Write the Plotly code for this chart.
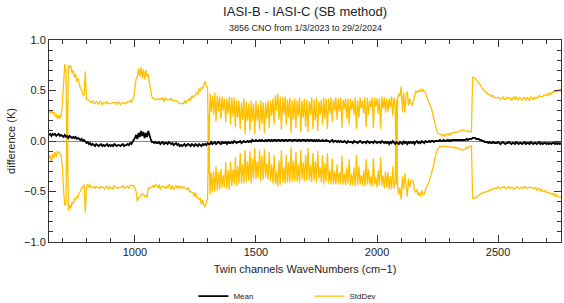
import numpy as np
import plotly.graph_objects as go

# ---------------- data ----------------
WN_START = 645.0      # first twin-channel wavenumber (cm-1)
WN_STEP = 5.0         # sampling used for the read-off values (cm-1)

# Mean difference IASI-B minus IASI-C (K), one value per WN_STEP from WN_START
mean_diff = [
    0.06, 0.07, 0.05, 0.07, 0.06, 0.07, 0.05, 0.06, 0.07, 0.05,        # 645
    0.06, 0.05, 0.04, 0.06, 0.04, 0.05, 0.03, 0.05, 0.04, 0.03,        # 695
    0.04, 0.03, 0.04, 0.02, 0.03, 0.02, 0.01, 0.02, 0.00, 0.01,        # 745
    -0.01, -0.02, -0.01, -0.03, -0.02, -0.04, -0.03, -0.04, -0.05, -0.03,  # 795
    -0.04, -0.05, -0.04, -0.03, -0.05, -0.04, -0.05, -0.04, -0.03, -0.05,  # 845
    -0.04, -0.05, -0.04, -0.05, -0.03, -0.04, -0.05, -0.04, -0.04, -0.05,  # 895
    -0.04, -0.03, -0.05, -0.04, -0.04, -0.03, -0.04, -0.02, -0.03, -0.01,  # 945
    0.00, 0.03, 0.06, 0.02, 0.08, 0.04, 0.10, 0.05, 0.09, 0.03,        # 995
    0.08, 0.04, 0.10, 0.05, 0.02, -0.01, -0.01, -0.02, -0.01, -0.02,   # 1045
    -0.02, -0.01, -0.03, -0.02, -0.01, -0.03, -0.02, -0.02, -0.03, -0.01,  # 1095
    -0.02, -0.03, -0.02, -0.04, -0.03, -0.02, -0.04, -0.03, -0.05, -0.04,  # 1145
    -0.05, -0.04, -0.03, -0.05, -0.04, -0.03, -0.04, -0.05, -0.03, -0.04,  # 1195
    -0.05, -0.03, -0.04, -0.05, -0.03, -0.04, -0.05, -0.03, -0.04, -0.03,  # 1245
    -0.04, -0.02, -0.03, -0.03, -0.01, -0.03, -0.02, -0.01, -0.03, -0.02,  # 1295
    -0.01, -0.02, -0.03, -0.01, -0.02, -0.02, -0.01, -0.03, -0.01, -0.02,  # 1345
    -0.02, -0.01, -0.02, 0.00, -0.01, -0.02, -0.01, -0.01, 0.00, -0.02,    # 1395
    -0.01, 0.00, -0.01, -0.01, 0.00, -0.01, 0.00, -0.01, 0.01, 0.00,       # 1445
    0.00, 0.01, 0.00, 0.00, 0.01, 0.00, 0.01, 0.00, 0.00, 0.01,        # 1495
    0.00, 0.01, 0.01, 0.00, 0.01, 0.00, 0.01, 0.01, 0.00, 0.01,        # 1545
    0.01, 0.00, 0.01, 0.01, 0.00, 0.01, 0.01, 0.00, 0.01, 0.01,        # 1595
    0.01, 0.00, 0.01, 0.01, 0.01, 0.00, 0.01, 0.01, 0.00, 0.01,        # 1645
    0.01, 0.01, 0.00, 0.01, 0.01, 0.00, 0.01, 0.01, 0.00, 0.01,        # 1695
    0.00, 0.01, 0.00, 0.01, 0.00, 0.00, 0.01, 0.00, 0.00, 0.01,        # 1745
    0.00, 0.00, -0.01, 0.00, 0.01, -0.01, 0.00, 0.00, -0.01, 0.00,     # 1795
    -0.01, 0.00, -0.01, -0.01, 0.00, -0.01, -0.02, 0.00, -0.01, -0.01,  # 1845
    -0.01, -0.02, 0.00, -0.01, -0.01, -0.02, -0.01, 0.00, -0.01, -0.02,  # 1895
    -0.01, -0.01, -0.02, 0.00, -0.01, -0.02, -0.01, -0.01, -0.02, 0.00,  # 1945
    -0.01, -0.02, -0.01, -0.01, -0.02, 0.00, -0.01, -0.02, -0.01, -0.02,  # 1995
    -0.01, -0.03, -0.01, -0.02, 0.00, -0.02, -0.03, -0.01, -0.02, -0.03,  # 2045
    -0.01, -0.02, -0.03, 0.00, -0.02, -0.01, -0.03, -0.01, -0.02, -0.01,  # 2095
    -0.02, -0.01, -0.03, -0.01, 0.00, -0.02, -0.01, -0.02, 0.00, -0.01,   # 2145
    -0.02, 0.00, -0.01, -0.01, 0.00, -0.01, 0.00, 0.00, -0.01, 0.00,      # 2195
    0.00, 0.00, 0.00, 0.01, 0.00, 0.00, 0.01, 0.00, 0.00, 0.01,        # 2245
    0.00, 0.01, 0.00, 0.01, 0.01, 0.01, 0.01, 0.01, 0.01, 0.01,        # 2295
    0.01, 0.01, 0.01, 0.01, 0.01, 0.02, 0.01, 0.02, 0.02, 0.02,        # 2345
    0.03, 0.03, 0.03, 0.02, 0.02, 0.02, 0.01, 0.01, 0.00, 0.00,        # 2395
    -0.01, -0.01, -0.01, -0.02, -0.01, -0.02, -0.02, -0.01, -0.02, -0.02,  # 2445
    -0.02, -0.01, -0.02, -0.03, -0.02, -0.01, -0.02, -0.03, -0.02, -0.02,  # 2495
    -0.01, -0.02, -0.03, -0.02, -0.02, -0.03, -0.01, -0.02, -0.03, -0.02,  # 2545
    -0.02, -0.03, -0.02, -0.01, -0.03, -0.02, -0.02, -0.03, -0.01, -0.02,  # 2595
    -0.03, -0.02, -0.02, -0.03, -0.02, -0.01, -0.03, -0.02, -0.03, -0.02,  # 2645
    -0.02, -0.03, -0.02, -0.03, -0.02, -0.03, -0.02, -0.02, -0.03, -0.02,  # 2695
    -0.03, -0.02, -0.03, -0.02,                                        # 2745
]

# Standard deviation of the difference (K), same sampling
std_dev = [
    0.24, 0.21, 0.25, 0.20, 0.23, 0.18, 0.21, 0.16, 0.19, 0.17,        # 645
    0.20, 0.30, 0.52, 0.70, 0.66, -0.35, 0.72, 0.68, 0.71, 0.64,       # 695
    0.66, 0.60, 0.62, 0.57, 0.59, 0.53, 0.51, 0.48, 0.46, 0.44,        # 745
    0.70, 0.43, 0.42, 0.43, 0.41, 0.42, 0.43, 0.41, 0.42, 0.42,        # 795
    0.42, 0.41, 0.43, 0.42, 0.41, 0.42, 0.43, 0.41, 0.42, 0.42,        # 845
    0.41, 0.42, 0.42, 0.43, 0.41, 0.42, 0.41, 0.43, 0.42, 0.41,        # 895
    0.42, 0.41, 0.42, 0.42, 0.41, 0.42, 0.43, 0.42, 0.41, 0.43,        # 945
    0.44, 0.50, 0.56, 0.62, 0.64, 0.60, 0.63, 0.57, 0.62, 0.58,        # 995
    0.62, 0.60, 0.56, 0.52, 0.48, 0.45, 0.43, 0.44, 0.42, 0.43,        # 1045
    0.44, 0.42, 0.45, 0.43, 0.44, 0.42, 0.45, 0.43, 0.44, 0.42,        # 1095
    0.43, 0.45, 0.42, 0.44, 0.43, 0.42, 0.43, 0.41, 0.42, 0.41,        # 1145
    0.42, 0.41, 0.43, 0.42, 0.44, 0.43, 0.46, 0.45, 0.48, 0.47,        # 1195
    0.50, 0.48, 0.52, 0.51, 0.55, 0.53, 0.58, 0.55, 0.60, 0.62,        # 1245
    0.58, 0.55, -0.30, 0.50, 0.30, 0.48, 0.28, 0.49, 0.22, 0.47,       # 1295
    0.30, 0.46, 0.25, 0.45, 0.32, 0.44, 0.20, 0.45, 0.28, 0.46,        # 1345
    0.18, 0.44, 0.26, 0.43, 0.15, 0.42, 0.24, 0.41, 0.12, 0.40,        # 1395
    0.22, 0.42, 0.08, 0.40, 0.20, 0.38, 0.10, 0.41, 0.18, 0.37,        # 1445
    0.07, 0.39, 0.20, 0.36, 0.10, 0.40, 0.16, 0.38, 0.08, 0.37,        # 1495
    0.22, 0.39, 0.12, 0.40, 0.24, 0.42, 0.15, 0.44, 0.30, 0.46,        # 1545
    0.20, 0.44, 0.10, 0.42, 0.26, 0.43, 0.15, 0.41, 0.22, 0.42,        # 1595
    0.07, 0.40, 0.20, 0.41, 0.12, 0.40, 0.24, 0.42, 0.09, 0.39,        # 1645
    0.22, 0.41, 0.14, 0.40, 0.08, 0.39, 0.25, 0.42, 0.12, 0.40,        # 1695
    0.20, 0.42, 0.10, 0.38, 0.26, 0.41, 0.15, 0.43, 0.22, 0.41,        # 1745
    0.12, 0.42, 0.28, 0.43, 0.18, 0.42, 0.30, 0.43, 0.22, 0.42,        # 1795
    0.30, 0.43, 0.14, 0.42, 0.32, 0.43, 0.24, 0.42, 0.17, 0.43,        # 1845
    0.32, 0.42, 0.26, 0.44, 0.13, 0.42, 0.24, 0.43, 0.33, 0.42,        # 1895
    0.28, 0.44, 0.16, 0.43, 0.27, 0.42, 0.34, 0.44, 0.15, 0.43,        # 1945
    0.35, 0.44, 0.28, 0.43, 0.14, 0.44, 0.33, 0.45, 0.29, 0.44,        # 1995
    0.30, 0.45, 0.34, 0.46, 0.25, 0.45, 0.36, -0.42, 0.44, 0.50,       # 2045
    0.45, 0.56, 0.32, 0.48, 0.30, 0.47, 0.52, 0.36, 0.44, 0.38,        # 2095
    0.37, 0.40, 0.46, 0.50, 0.48, 0.52, 0.50, 0.53, 0.49, 0.52,        # 2145
    0.51, 0.48, 0.45, 0.42, 0.40, 0.36, 0.32, 0.27, 0.22, 0.16,        # 2195
    0.12, 0.08, 0.07, 0.06, 0.06, 0.05, 0.06, 0.05, 0.06, 0.06,        # 2245
    0.06, 0.07, 0.06, 0.07, 0.07, 0.08, 0.07, 0.08, 0.08, 0.09,        # 2295
    0.09, 0.10, 0.10, 0.09, 0.09, 0.08, 0.08, 0.08, 0.07, 0.07,        # 2345
    0.60, 0.60, 0.59, 0.58, 0.57, 0.56, 0.54, 0.53, 0.52, 0.51,        # 2395
    0.50, 0.49, 0.49, 0.48, 0.47, 0.47, 0.46, 0.46, 0.45, 0.45,        # 2445
    0.45, 0.44, 0.45, 0.44, 0.44, 0.45, 0.43, 0.44, 0.45, 0.44,        # 2495
    0.44, 0.45, 0.43, 0.44, 0.46, 0.44, 0.45, 0.43, 0.44, 0.45,        # 2545
    0.44, 0.43, 0.45, 0.44, 0.43, 0.45, 0.44, 0.43, 0.45, 0.44,        # 2595
    0.44, 0.45, 0.44, 0.46, 0.45, 0.46, 0.47, 0.46, 0.47, 0.48,        # 2645
    0.47, 0.48, 0.49, 0.48, 0.50, 0.49, 0.51, 0.50, 0.52, 0.51,        # 2695
    0.52, 0.53, 0.52, 0.54,                                            # 2745
]

TITLE = "IASI-B - IASI-C (SB method)"
SUBTITLE = "3856 CNO from 1/3/2023 to 29/2/2024"
X_TITLE = "Twin channels WaveNumbers (cm\u22121)"
Y_TITLE = "difference (K)"
X_RANGE = [645, 2760]
Y_RANGE = [-1.0, 1.0]

# ---------------- figure ----------------
mean_arr = np.array(mean_diff)
std_arr = np.array(std_dev)
wn = WN_START + WN_STEP * np.arange(len(mean_arr))

GOLD = "#FFC000"
FONT = "Liberation Sans, Arial, sans-serif"
TXT = "#222222"

fig = go.Figure()
fig.add_trace(go.Scatter(x=wn, y=mean_arr + std_arr, mode="lines",
                         line=dict(color=GOLD, width=1.3), name="StdDev",
                         legendgroup="std", legendrank=2))
fig.add_trace(go.Scatter(x=wn, y=mean_arr - std_arr, mode="lines",
                         line=dict(color=GOLD, width=1.3), name="StdDev",
                         legendgroup="std", showlegend=False))
fig.add_trace(go.Scatter(x=wn, y=mean_arr, mode="lines",
                         line=dict(color="black", width=1.8), name="Mean",
                         legendrank=1))

axis_common = dict(showline=True, linecolor="#333333", linewidth=1, mirror="allticks",
                   ticks="inside", tickcolor="#333333", showgrid=False, automargin=False,
                   tickfont=dict(family=FONT, size=11, color=TXT))

fig.update_xaxes(range=X_RANGE, tickvals=[1000, 1500, 2000, 2500], ticklen=7,
                 minor=dict(dtick=100, tick0=0, ticklen=4, ticks="inside", tickcolor="#333333"),
                 zeroline=False,
                 title=dict(text=X_TITLE, font=dict(family=FONT, size=11, color=TXT), standoff=8),
                 **axis_common)
fig.update_yaxes(range=Y_RANGE, dtick=0.5, tick0=0, tickformat=".1f", ticklen=7,
                 minor=dict(dtick=0.1, tick0=0, ticklen=4, ticks="inside", tickcolor="#333333"),
                 zeroline=True, zerolinecolor="#888888", zerolinewidth=1,
                 title=dict(text=Y_TITLE, font=dict(family=FONT, size=11, color=TXT), standoff=6),
                 **axis_common)

fig.update_layout(
    width=564, height=303,
    margin=dict(l=49, r=3, t=40, b=61, autoexpand=False),
    paper_bgcolor="white", plot_bgcolor="white",
    title=dict(text=TITLE, x=0.541, xanchor="center", y=1 - 11 / 303, yanchor="middle",
               font=dict(family=FONT, size=13, color=TXT), automargin=False),
    annotations=[dict(text=SUBTITLE, xref="paper", yref="paper", x=0.5, y=1.06,
                      xanchor="center", yanchor="middle", showarrow=False,
                      font=dict(family=FONT, size=9, color=TXT))],
    showlegend=True,
    legend=dict(orientation="h", x=0.282, xanchor="left", y=-0.268, yanchor="middle",
                font=dict(family=FONT, size=8, color=TXT), entrywidth=71,
                bgcolor="rgba(0,0,0,0)"),
)

fig.write_html("out.html", config={"displayModeBar": False},
               post_script="document.body.style.margin='0';document.body.style.overflow='hidden';")
